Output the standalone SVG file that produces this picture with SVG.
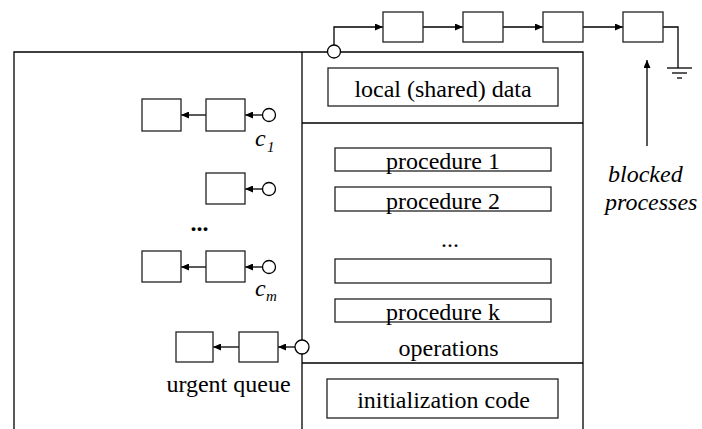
<svg xmlns="http://www.w3.org/2000/svg" width="702" height="429" viewBox="0 0 702 429" font-family="Liberation Serif, Times New Roman, serif">
<defs>
<marker id="ah" markerWidth="8" markerHeight="7" refX="8" refY="3.5" orient="auto" markerUnits="userSpaceOnUse">
<path d="M0,0 L8,3.5 L0,7 Z" fill="#000"/>
</marker>
</defs>
<style>
.ln{stroke:#000;stroke-width:1.3;fill:none}
.bx{stroke:#222;stroke-width:1.3;fill:#fff}
.cr{stroke:#000;stroke-width:1.3;fill:#fff}
</style>
<rect width="702" height="429" fill="#fff"/>

<g id="monitor">
<path class="ln" d="M14,429 V52 H583 V429"/>
<line class="ln" x1="302" y1="52" x2="302" y2="429"/>
<line class="ln" x1="302" y1="123" x2="583" y2="123"/>
<line class="ln" x1="302" y1="363" x2="583" y2="363"/>
</g>

<g id="local-data">
<rect class="bx" x="328" y="68" width="230" height="38"/>
<text font-size="24" x="443" y="97" text-anchor="middle">local (shared) data</text>
</g>
<g id="proc1">
<rect class="bx" x="335" y="148" width="216" height="23"/>
<text font-size="24" x="443" y="169" text-anchor="middle">procedure 1</text>
</g>
<g id="proc2">
<rect class="bx" x="335" y="187" width="216" height="24"/>
<text font-size="24" x="443" y="209" text-anchor="middle">procedure 2</text>
</g>
<g id="proc-dots">
<text font-size="24" x="450" y="247" text-anchor="middle">...</text>
</g>
<g id="proc-empty">
<rect class="bx" x="335" y="259" width="216" height="24"/>
</g>
<g id="procK">
<rect class="bx" x="335" y="299" width="216" height="23"/>
<text font-size="24" x="443" y="320" text-anchor="middle">procedure k</text>
</g>
<g id="operations">
<text font-size="24" x="448.5" y="356" text-anchor="middle">operations</text>
</g>
<g id="init">
<rect class="bx" x="327" y="379" width="231" height="39"/>
<text font-size="24" x="443.5" y="408" text-anchor="middle">initialization code</text>
</g>

<g id="connectors">
<path class="ln" d="M334,45 V27 H383" marker-end="url(#ah)"/>
<line class="ln" x1="423" y1="27" x2="463" y2="27" marker-end="url(#ah)"/>
<line class="ln" x1="503" y1="27" x2="543" y2="27" marker-end="url(#ah)"/>
<line class="ln" x1="583" y1="27" x2="623" y2="27" marker-end="url(#ah)"/>
<path class="ln" d="M663,27 H678 V68"/>
<line class="ln" x1="647" y1="146" x2="647" y2="60" marker-end="url(#ah)"/>
<line class="ln" x1="262.5" y1="115" x2="245" y2="115" marker-end="url(#ah)"/>
<line class="ln" x1="206" y1="115" x2="181" y2="115" marker-end="url(#ah)"/>
<line class="ln" x1="262.5" y1="189" x2="245" y2="189" marker-end="url(#ah)"/>
<line class="ln" x1="262.5" y1="267" x2="245" y2="267" marker-end="url(#ah)"/>
<line class="ln" x1="206" y1="267" x2="181" y2="267" marker-end="url(#ah)"/>
<line class="ln" x1="295" y1="347" x2="278" y2="347" marker-end="url(#ah)"/>
<line class="ln" x1="239" y1="347" x2="213" y2="347" marker-end="url(#ah)"/>
</g>

<g id="entry-circle"><circle class="cr" cx="334" cy="51.5" r="6.5"/></g>
<g id="blocked1"><rect class="bx" x="383" y="12" width="40" height="30"/></g>
<g id="blocked2"><rect class="bx" x="463" y="12" width="40" height="30"/></g>
<g id="blocked3"><rect class="bx" x="543" y="12" width="40" height="30"/></g>
<g id="blocked4"><rect class="bx" x="623" y="12" width="40" height="30"/></g>
<g id="ground">
<line class="ln" x1="667" y1="68" x2="692" y2="68"/>
<line class="ln" x1="672" y1="73" x2="687" y2="73"/>
<line class="ln" x1="677" y1="78" x2="682" y2="78"/>
</g>
<g id="blocked-label" font-size="24" font-style="italic">
<text x="608" y="182">blocked</text>
<text x="605" y="210">processes</text>
</g>

<g id="c1-queue">
<circle class="cr" cx="269" cy="115" r="6.5"/>
<rect class="bx" x="206" y="99" width="39" height="32"/>
<rect class="bx" x="142" y="99" width="39" height="32"/>
<text font-size="24" font-style="italic" x="255" y="146">c</text>
<text font-size="15" font-style="italic" x="267" y="152">1</text>
</g>
<g id="c2-queue">
<circle class="cr" cx="269" cy="189" r="6.5"/>
<rect class="bx" x="206" y="173" width="39" height="31"/>
</g>
<g id="dots-left">
<text font-size="24" x="199.5" y="231" text-anchor="middle" font-weight="bold">...</text>
</g>
<g id="cm-queue">
<circle class="cr" cx="269" cy="267" r="6.5"/>
<rect class="bx" x="206" y="251" width="39" height="31"/>
<rect class="bx" x="142" y="251" width="39" height="31"/>
<text font-size="24" font-style="italic" x="255" y="296">c</text>
<text font-size="15" font-style="italic" x="266" y="301">m</text>
</g>
<g id="urgent-queue">
<circle class="cr" cx="302" cy="347" r="7"/>
<rect class="bx" x="239" y="332" width="39" height="30"/>
<rect class="bx" x="176" y="332" width="37" height="30"/>
<text font-size="24" x="228.5" y="392" text-anchor="middle">urgent queue</text>
</g>
</svg>
